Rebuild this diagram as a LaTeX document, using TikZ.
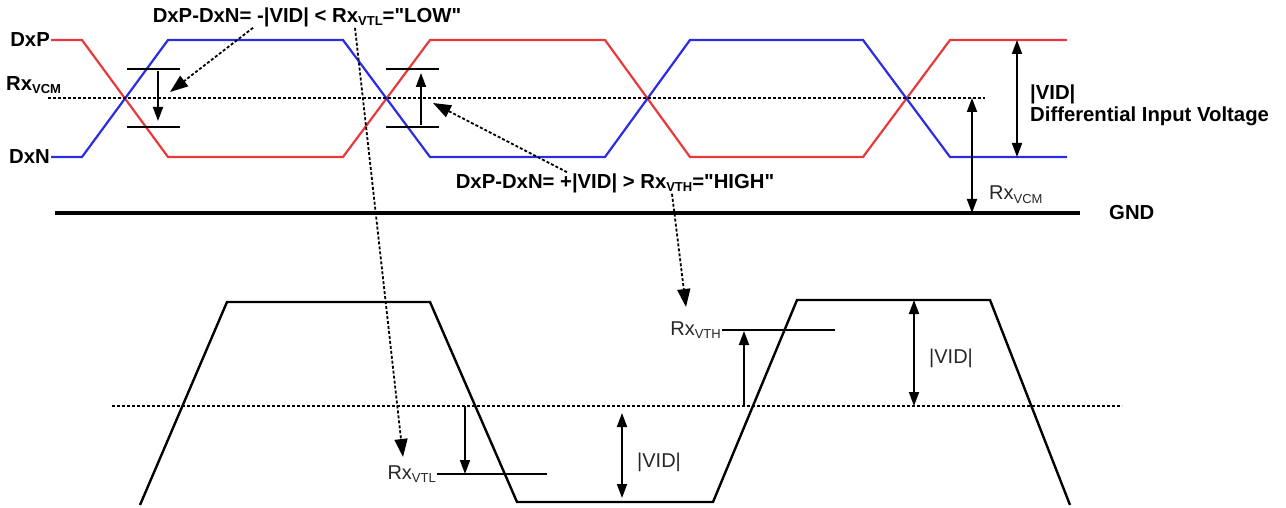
\documentclass[tikz,border=0pt]{standalone}
\usepackage{fontspec}
\setmainfont{Liberation Sans}
\usetikzlibrary{arrows.meta,positioning,calc}
\definecolor{sigred}{RGB}{232,58,58}
\definecolor{sigblue}{RGB}{44,44,226}
\newcommand{\vsub}[1]{\raisebox{-0.35ex}{\fontsize{13}{13}\selectfont #1}}
\newcommand{\qt}{\textquotedbl}
\tikzset{
  lbl/.style={font=\fontsize{20.3}{23}\selectfont\bfseries, inner sep=1pt},
  thinlbl/.style={font=\fontsize{20}{23}\selectfont, text=black!85, inner sep=1pt},
  sigp/.style={draw=sigred, line width=2.2pt},
  sign/.style={draw=sigblue, line width=2.2pt},
  wave/.style={draw=black, line width=2.4pt},
  gndline/.style={draw=black, line width=3.8pt},
  refline/.style={line width=1.8pt, dash pattern=on 3pt off 2pt},
  level/.style={line width=1.8pt},
  arrow/.style={-{Triangle[length=14pt,width=10pt]}, line width=1.8pt},
  dblarrow/.style={{Triangle[length=14pt,width=10pt]}-{Triangle[length=14pt,width=10pt]}, line width=1.8pt},
  dashedarrow/.style={-{Triangle[length=18pt,width=13pt]}, line width=1.8pt, dash pattern=on 3pt off 2pt}
}

\begin{document}
\begin{tikzpicture}[x=1pt,y=-1pt]
\useasboundingbox (0,0) rectangle (1286,508);

% differential inputs
\node[lbl, anchor=east] (dxp) at (51,40) {DxP};
\node[lbl, anchor=east] (dxn) at (51,157) {DxN};
\node[lbl, anchor=west] (vcm) at (5,85) {Rx\vsub{VCM}};
\draw[sigp] (dxp.east) -- (82,40) -- (168,157) -- (343,157) -- (430,40) -- (605,40) -- (690,157) -- (863,157) -- (950,40) -- (1067,40);
\draw[sign] (dxn.east) -- (82,157) -- (168,40) -- (343,40) -- (430,157) -- (605,157) -- (690,40) -- (863,40) -- (950,157) -- (1067,157);
\draw[refline] (48,98) -- (985,98);

% thresholds at the crossings
\draw[level] (127,69) -- (180,69);
\draw[level] (127,127) -- (180,127);
\draw[arrow] (158,71) -- (158,121);
\draw[level] (386,69) -- (439,69);
\draw[level] (386,127) -- (439,127);
\draw[arrow] (421,125) -- (421,73);

\node[lbl] (lowtxt) at (307,17) {DxP-DxN= -|VID| < Rx\vsub{VTL}=\qt LOW\qt};
\node[lbl] (hightxt) at (615,183) {DxP-DxN= +|VID| > Rx\vsub{VTH}=\qt HIGH\qt};
\coordinate (lowtip) at (170,92);
\coordinate (hightip) at (433,103);
\coordinate (vtltip) at (403,457);
\coordinate (vthtip) at (686,307);
\draw[dashedarrow] ([xshift=-54pt]lowtxt.south) -- (lowtip);
\draw[dashedarrow] ([xshift=-48pt]hightxt.north) -- (hightip);
\draw[dashedarrow] ([xshift=48pt]lowtxt.south) -- (vtltip);
\draw[dashedarrow] ([xshift=57pt]hightxt.south) -- (vthtip);

% amplitude and common mode
\draw[dblarrow] (1017,40) -- (1017,157);
\node[lbl, anchor=west] (vid) at (1029,94) {|VID|};
\node[lbl, anchor=west] (vidtxt) at (1029,116) {Differential Input Voltage};
\node[lbl, anchor=west] (gnd) at (1108,213) {GND};
\draw[gndline] (55,213) -- ([xshift=-28pt]gnd.west);
\draw[dblarrow] (972,98) -- (972,213);
\node[thinlbl, anchor=west] (vcmr) at (988,195) {Rx\vsub{VCM}};

% receiver output
\draw[wave] (140,505) -- (227,302) -- (430,302) -- (517,502) -- (713,502) -- (797,300) -- (990,300) -- (1070,505);
\draw[refline] (112,406) -- (1122,406);
\node[thinlbl, anchor=east] (vtl) at (437,474) {Rx\vsub{VTL}};
\draw[level] (vtl.east) -- (547,474);
\draw[arrow] (465,406) -- (465,474);
\draw[dblarrow] (622,413) -- (622,498);
\node[thinlbl, anchor=west] (vidl) at (636,462) {|VID|};
\node[thinlbl, anchor=east] (vth) at (722,330) {Rx\vsub{VTH}};
\draw[level] (vth.east) -- (835,330);
\draw[arrow] (744,406) -- (744,331);
\draw[dblarrow] (914,300) -- (914,406);
\node[thinlbl, anchor=west] (vidr) at (928,358) {|VID|};
\end{tikzpicture}
\end{document}
